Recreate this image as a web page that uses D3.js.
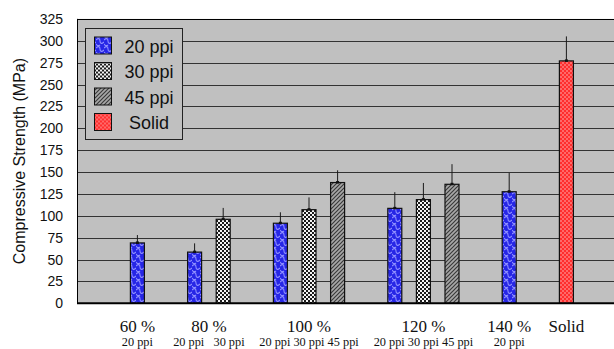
<!DOCTYPE html>
<html>
<head>
<meta charset="utf-8">
<script src="https://cdn.jsdelivr.net/npm/d3@7"></script>
<style>
  html, body { margin: 0; padding: 0; background: #fff; }
  svg { display: block; }
  .sans { font-family: "Liberation Sans", Arial, Helvetica, sans-serif; }
  .serif { font-family: "Liberation Serif", "Times New Roman", serif; }
</style>
</head>
<body>
<svg id="chart" width="614" height="349"></svg>
<script>
// Porosity groups along the x axis, with the foam grades tested in each
const groupLabels = ["60 %", "80 %", "100 %", "120 %", "140 %", "Solid"];
const groupSubLabels = ["20 ppi", "20 ppi   30 ppi", "20 ppi 30 ppi 45 ppi", "20 ppi 30 ppi 45 ppi", "20 ppi", ""];
// One entry per bar
const barGroup  = [0, 1, 1, 2, 2, 2, 3, 3, 3, 4, 5];
const barSeries = ["20 ppi", "20 ppi", "30 ppi", "20 ppi", "30 ppi", "45 ppi", "20 ppi", "30 ppi", "45 ppi", "20 ppi", "Solid"];
const barValues = [69, 58.5, 96, 91.5, 107, 138, 108.5, 118.5, 136, 127.5, 277];
const barErrors = [9, 10, 13, 12.5, 14, 14, 18.5, 19, 23, 21.5, 28];
// Category slot for each bar (empty slots separate the groups)
const barSlots  = [1, 3, 4, 6, 7, 8, 10, 11, 12, 14, 16];
const slotCount = 19;
const legendSeries = ["20 ppi", "30 ppi", "45 ppi", "Solid"];
const yTicks = d3.range(0, 326, 25);

const svg = d3.select("#chart");
const plot = { left: 77, top: 18.9, right: 614, bottom: 303.3 };

const y = d3.scaleLinear().domain([0, 325]).range([plot.bottom, plot.top]);
const x = d3.scaleBand().domain(d3.range(slotCount)).range([94.5, 94.5 + slotCount * 28.6]);
const barW = x.bandwidth() * 0.49;
const cx = s => x(s) + x.bandwidth() / 2;

// ---- fill patterns ----
const defs = svg.append("defs");

// 20 ppi: blue with light wavy strokes
const pBlue = defs.append("pattern").attr("id", "p20").attr("patternUnits", "userSpaceOnUse")
  .attr("width", 8).attr("height", 8);
pBlue.append("rect").attr("width", 8).attr("height", 8).attr("fill", "#2626e6");
pBlue.append("path").attr("d", "M0,2 C2,0 4,0 4,3 C4,6 6,6 8,4 M0,6 C1,8 3,8 4,7")
  .attr("fill", "none").attr("stroke", "#8f8fff").attr("stroke-width", 1.1);

// 30 ppi: white with black checker dots
const pDots = defs.append("pattern").attr("id", "p30").attr("patternUnits", "userSpaceOnUse")
  .attr("width", 4).attr("height", 4);
pDots.append("rect").attr("width", 4).attr("height", 4).attr("fill", "#f4f4f4");
pDots.append("rect").attr("x", 0).attr("y", 0).attr("width", 2).attr("height", 2).attr("fill", "#1a1a1a");
pDots.append("rect").attr("x", 2).attr("y", 2).attr("width", 2).attr("height", 2).attr("fill", "#1a1a1a");

// 45 ppi: diagonal grey hatching
const pHatch = defs.append("pattern").attr("id", "p45").attr("patternUnits", "userSpaceOnUse")
  .attr("width", 4).attr("height", 4);
pHatch.append("rect").attr("width", 4).attr("height", 4).attr("fill", "#a8a8a8");
pHatch.append("path").attr("d", "M-1,1 L1,-1 M0,4 L4,0 M3,5 L5,3")
  .attr("stroke", "#3a3a3a").attr("stroke-width", 1.2);

// Solid: red with fine lighter checker
const pRed = defs.append("pattern").attr("id", "pS").attr("patternUnits", "userSpaceOnUse")
  .attr("width", 4).attr("height", 4);
pRed.append("rect").attr("width", 4).attr("height", 4).attr("fill", "#ff2e2e");
pRed.append("rect").attr("x", 0).attr("y", 0).attr("width", 2).attr("height", 2).attr("fill", "#ff6a6a");
pRed.append("rect").attr("x", 2).attr("y", 2).attr("width", 2).attr("height", 2).attr("fill", "#ff6a6a");

const fillFor = { "20 ppi": "url(#p20)", "30 ppi": "url(#p30)", "45 ppi": "url(#p45)", "Solid": "url(#pS)" };

// ---- plot area ----
svg.append("rect")
  .attr("x", plot.left).attr("y", plot.top)
  .attr("width", plot.right - plot.left).attr("height", plot.bottom - plot.top)
  .attr("fill", "#c0c0c0");

// gridlines
svg.append("g").selectAll("line").data(yTicks.filter(t => t > 0)).join("line")
  .attr("x1", plot.left).attr("x2", plot.right)
  .attr("y1", d => Math.round(y(d)) + 0.5).attr("y2", d => Math.round(y(d)) + 0.5)
  .attr("stroke", d => d === 325 ? "#000" : "#333").attr("stroke-width", 1);

// y axis
const yAxis = d3.axisLeft(y).tickValues(yTicks).tickSize(0).tickPadding(14);
const ga = svg.append("g").attr("transform", `translate(${plot.left},0)`).call(yAxis);
ga.attr("font-family", null).attr("font-size", null);
ga.select(".domain").remove();
ga.selectAll("text").attr("class", "sans")
  .style("font-size", "14px").attr("fill", "#111");

svg.append("line")
  .attr("x1", plot.left + 0.5).attr("x2", plot.left + 0.5)
  .attr("y1", plot.top).attr("y2", plot.bottom)
  .attr("stroke", "#000");

// bars
const bars = barValues.map((v, i) => ({ v, e: barErrors[i], s: barSeries[i], slot: barSlots[i], g: barGroup[i] }));

svg.append("g").selectAll("rect").data(bars).join("rect")
  .attr("x", d => cx(d.slot) - barW / 2)
  .attr("y", d => y(d.v))
  .attr("width", barW)
  .attr("height", d => y(0) - y(d.v))
  .attr("fill", d => fillFor[d.s])
  .attr("stroke", "#111").attr("stroke-width", 1.2);

// error bars (upper)
const eg = svg.append("g");
eg.selectAll("line").data(bars).join("line")
  .attr("x1", d => cx(d.slot)).attr("x2", d => cx(d.slot))
  .attr("y1", d => y(d.v)).attr("y2", d => y(d.v + d.e))
  .attr("stroke", "#1a1a1a").attr("stroke-width", 1);
eg.selectAll("rect").data(bars).join("rect")
  .attr("x", d => cx(d.slot) - 1.5).attr("y", d => y(d.v) - 1.5)
  .attr("width", 3).attr("height", 2.5).attr("fill", "#111");

// baseline
svg.append("line")
  .attr("x1", plot.left).attr("x2", plot.right)
  .attr("y1", plot.bottom).attr("y2", plot.bottom)
  .attr("stroke", "#000").attr("stroke-width", 2);

// group labels, centred under each group of bars
const groupX = groupLabels.map((g, gi) => d3.mean(bars.filter(b => b.g === gi), b => cx(b.slot)));
svg.append("g").selectAll("text").data(groupLabels).join("text")
  .attr("class", "serif")
  .attr("x", (d, i) => groupX[i]).attr("y", 331.5)
  .attr("text-anchor", "middle")
  .style("font-size", "17px").attr("fill", "#111")
  .text(d => d);

svg.append("g").selectAll("text").data(groupSubLabels).join("text")
  .attr("class", "serif")
  .attr("x", (d, i) => groupX[i]).attr("y", 345.5)
  .attr("text-anchor", "middle")
  .style("white-space", "pre")
  .attr("xml:space", "preserve")
  .style("font-size", "12.3px").attr("fill", "#111")
  .text(d => d);

// y axis title
svg.append("text")
  .attr("class", "sans")
  .attr("transform", `translate(25,${(plot.top + plot.bottom) / 2}) rotate(-90)`)
  .attr("text-anchor", "middle")
  .style("font-size", "16px").attr("fill", "#111")
  .text("Compressive Strength (MPa)");

// legend
const lg = svg.append("g");
lg.append("rect").attr("x", 85.5).attr("y", 28.5).attr("width", 97).attr("height", 111)
  .attr("fill", "#c0c0c0").attr("stroke", "#222").attr("stroke-width", 1);
const rows = lg.selectAll("g").data(legendSeries).join("g")
  .attr("transform", (d, i) => `translate(0,${46 + i * 25.5})`);
rows.append("rect").attr("x", 94.5).attr("y", -9).attr("width", 17).attr("height", 17)
  .attr("fill", d => fillFor[d]).attr("stroke", "#111");
rows.append("text").attr("class", "sans")
  .attr("x", 149).attr("y", 6.5)
  .attr("text-anchor", "middle")
  .style("font-size", "18px").attr("fill", "#111")
  .text(d => d);
</script>
</body>
</html>
